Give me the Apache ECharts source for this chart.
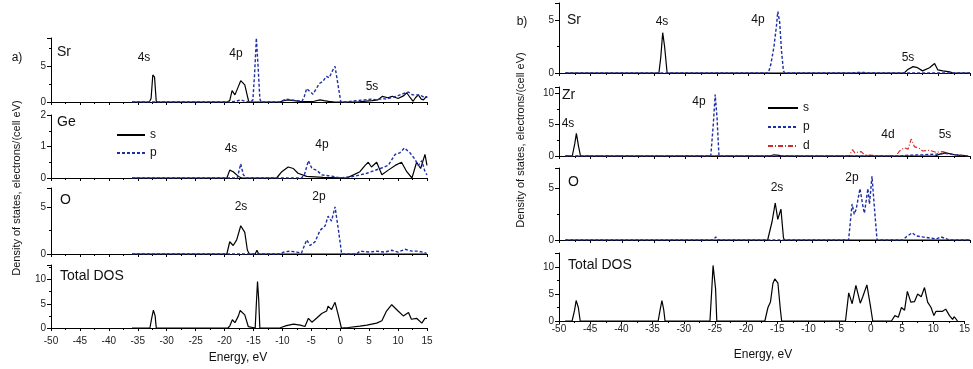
<!DOCTYPE html>
<html>
<head>
<meta charset="utf-8">
<script src="https://cdn.jsdelivr.net/npm/echarts@6/dist/echarts.min.js"></script>
<style>
  html, body { margin: 0; padding: 0; background: #fff; }
  #chart { width: 973px; height: 369px; }
</style>
</head>
<body>
<div id="chart"></div>
<script>
// ---- data: [energy (eV), DOS] ----
// panel a) SrGeO3
const srS_a = [[-36,0],[-33,0],[-32.7,0.5],[-32.4,3.8],[-32.1,3.5],[-31.8,0],[-19.6,0],[-19.1,0.2],[-18.7,1.6],[-18.2,1.0],[-17.6,2.2],[-17.2,3.0],[-16.5,2.4],[-16.1,1.0],[-15.8,0],[-10.4,0],[-9.8,0.2],[-9.0,0.3],[-8.0,0.2],[-7.0,0.1],[-6.0,0.05],[-4.5,0.1],[-3.5,0.3],[-2.8,0.2],[-2.0,0.1],[-1,0],[3,0],[4,0.1],[5.5,0.2],[6.5,0.3],[7.3,0.8],[8.2,0.6],[9.0,0.8],[10.0,0.5],[11.0,0.9],[11.5,1.3],[12.1,0.6],[12.6,0.1],[13.0,0.6],[13.5,1.0],[14.0,0.4],[14.4,0.3],[14.9,0.8],[15,0.6]];
const srP_a = [[-36,0],[-19,0],[-18,0.1],[-17.2,0.3],[-16.5,0.1],[-15.5,0],[-15.1,0.3],[-14.8,4],[-14.5,9.0],[-14.2,5],[-13.9,0.5],[-13.7,0],[-10.4,0],[-10,0.2],[-9.2,0.4],[-8.5,0.3],[-7.5,0.2],[-6.6,0.1],[-6.2,0.8],[-5.8,1.9],[-5.3,1.5],[-4.7,1.1],[-4.2,1.8],[-3.6,2.6],[-3.0,2.9],[-2.4,3.6],[-1.9,3.4],[-1.4,4.3],[-0.9,5.0],[-0.5,3.0],[0.1,0],[1.1,0],[2,0.1],[3,0.2],[4.2,0.3],[5.4,0.4],[6.3,0.3],[7.3,0.5],[8.0,0.4],[9.2,0.7],[10,0.9],[11,1.2],[11.8,1.4],[12.5,1.0],[13.3,1.0],[14.0,0.9],[14.6,0.6],[15,0.8]];
const geS = [[-36,0],[-19.6,0],[-19.1,0.25],[-18.5,0.2],[-17.6,0.05],[-17,0],[-14.4,0],[-14.2,0.05],[-14,0],[-11,0],[-10.1,0.2],[-9.0,0.35],[-8.1,0.3],[-7.3,0.15],[-5.8,0.05],[-3,0.02],[1.1,0],[2.3,0.1],[3.4,0.2],[4.3,0.4],[4.85,0.5],[5.4,0.35],[6.3,0.5],[7.2,0.1],[8.3,0.25],[9.5,0.4],[10.6,0.5],[11.5,0.2],[12.4,0.0],[13.2,0.5],[13.9,0.3],[14.65,0.75],[15,0.4]];
const geP = [[-36,0],[-17.8,0],[-17.2,0.45],[-16.75,0.1],[-16.2,0],[-6.7,0],[-6.2,0.1],[-5.5,0.55],[-4.9,0.3],[-4.1,0.25],[-3.2,0.1],[-1.2,0.05],[0,0],[2.3,0.05],[4.6,0.15],[6.9,0.3],[8.3,0.4],[9.5,0.75],[10.3,0.8],[11.1,0.95],[12.05,0.8],[12.9,0.6],[13.5,0.4],[14.1,0.55],[14.65,0.2],[15,0.1]];
const oS_a = [[-36,0],[-19.6,0],[-19.1,1.3],[-18.5,0.9],[-17.9,1.5],[-17.2,3.0],[-16.5,2.3],[-16.05,0.4],[-15.7,0],[-14.7,0],[-14.4,0.4],[-14.1,0],[15,0]];
const oP_a = [[-36,0],[-10.4,0],[-9.8,0.2],[-8.7,0.3],[-7.5,0.2],[-6.7,0.1],[-5.8,1.5],[-5.2,0.9],[-4.35,1.3],[-3.5,2.5],[-2.6,3.0],[-2.1,4.0],[-1.5,3.5],[-0.9,5.0],[-0.3,2.5],[0.25,0],[2.8,0],[3.4,0.3],[5.1,0.2],[6.3,0.3],[7.7,0.2],[8.9,0.4],[10.0,0.2],[11.2,0.5],[12.4,0.3],[13.5,0.3],[14.9,0.1]];
const totA = [[-36,0],[-32.9,0],[-32.6,2.0],[-32.3,3.7],[-32.0,2.5],[-31.8,0],[-19.4,0],[-19.06,0.5],[-18.65,1.7],[-18.2,1.1],[-17.6,2.5],[-17.3,3.6],[-16.5,2.7],[-15.9,0.3],[-15.7,0],[-14.7,0],[-14.5,5],[-14.3,9.6],[-14.1,6],[-13.9,0],[-10.4,0],[-10,0.2],[-9.3,0.5],[-8.1,0.8],[-6.9,0.6],[-6.1,0.3],[-5.5,2.0],[-4.9,1.2],[-4.1,2.0],[-3.2,3.0],[-2.35,3.5],[-2.1,4.5],[-1.5,3.8],[-0.9,5.3],[-0.3,2.5],[0.2,0],[1.4,0.1],[3.4,0.4],[4.6,0.6],[6.3,1.0],[7.2,1.5],[8.0,3.5],[8.9,4.8],[10.0,3.5],[10.9,2.5],[11.8,3.2],[12.3,1.8],[13.2,2.0],[14.1,1.0],[14.65,2.0],[15,2.0]];

// panel b) SrZrO3
const srS_b = [[-49,0],[-34.2,0],[-33.9,1.5],[-33.6,3.8],[-33.3,2.5],[-32.9,0],[4.6,0],[5.1,0.3],[6.0,0.6],[6.7,0.5],[7.5,0.2],[8.6,0.5],[9.4,0.9],[9.9,0.3],[10.7,0.2],[11.8,0.1],[12.3,0],[15,0]];
const srP_b = [[-49,0],[-16.9,0],[-16.5,0.8],[-16.0,2.5],[-15.6,4.5],[-15.4,5.8],[-15.1,4.8],[-14.8,2.0],[-14.5,0.2],[-14.3,0],[-3.6,0],[-3.0,0.05],[-1.8,0.05],[-1.2,0],[15,0]];
const zrS = [[-49,0],[-47.9,0],[-47.5,2.0],[-47.25,3.6],[-46.9,1.5],[-46.6,0],[-16.7,0],[-16.0,0.2],[-15.2,0.1],[-14.8,0],[9.5,0],[10.2,0.3],[11.2,0.5],[12.5,0.2],[13.5,0.1],[14.5,0]];
const zrP = [[-49,0],[-26.0,0],[-25.6,5],[-25.3,9.8],[-25.0,6],[-24.7,0],[4,0],[4.9,0.1],[7.5,0.2],[9.6,0.3],[11.2,0.4],[12.5,0.2],[14,0.05],[15,0]];
const zrD = [[-49,0],[-4.1,0],[-3.6,1.0],[-3.2,0.5],[-2.75,0.6],[-2.2,0.7],[-1.7,0.2],[-0.4,0.1],[0,0],[3.3,0],[3.85,0.8],[4.6,1.3],[5.2,1.1],[5.7,2.7],[6.2,1.5],[7.0,1.2],[7.5,0.8],[8.6,0.9],[9.6,0.6],[10.7,0.7],[11.5,0.4],[12.6,0.2],[13.9,0.1],[15,0]];
const oS_b = [[-49,0],[-17.0,0],[-16.3,1.8],[-15.8,3.6],[-15.4,2.0],[-14.9,3.0],[-14.5,0.2],[-14.3,0],[15,0]];
const oP_b = [[-49,0],[-25.6,0],[-25.2,0.3],[-24.8,0],[-4.2,0],[-3.65,3.5],[-3.3,2.5],[-3.0,3.0],[-2.4,5.0],[-2.0,3.5],[-1.7,2.6],[-1.15,5.0],[-0.9,3.5],[-0.5,6.2],[-0.1,3.0],[0.3,0],[4.4,0],[4.9,0.3],[5.85,0.7],[6.5,0.4],[7.5,0.3],[8.6,0.2],[9.65,0.1],[10.4,0.3],[11.8,0],[15,0]];
const totB = [[-49,0],[-47.9,0],[-47.5,2.0],[-47.25,3.8],[-46.9,2.5],[-46.6,0],[-34.1,0],[-33.8,2.0],[-33.5,3.8],[-33.2,2.0],[-33.0,0],[-25.8,0],[-25.5,6],[-25.3,10.3],[-24.9,6.0],[-24.7,0],[-17.0,0],[-16.5,2.5],[-16.1,3.5],[-15.7,7.0],[-15.4,7.8],[-14.9,7.0],[-14.5,2.0],[-14.3,0],[-4.07,0],[-3.55,5.2],[-3.0,3.2],[-2.4,6.6],[-1.7,3.3],[-1.3,4.5],[-0.64,6.7],[-0.1,3.0],[0.3,0],[3.3,0],[3.85,1.0],[4.4,0.7],[4.9,2.5],[5.4,2.0],[5.85,5.5],[6.4,3.5],[7.0,3.6],[7.5,5.0],[8.07,4.5],[8.6,6.2],[9.1,3.5],[9.65,2.5],[10.1,1.0],[10.45,1.8],[11.5,1.8],[12.0,2.2],[12.6,1.0],[13.1,0.3],[13.35,0.8],[13.9,0]];

// y axis ranges per subplot: [max, interval]
const yMax = [9, 2, 7, 13, 6.6, 11, 7, 12.6];
const yStep = [5, 1, 5, 5, 5, 5, 5, 5];

const FONT = 'Liberation Sans, Arial, sans-serif';
const BLUE = '#1d2fa3';
const RED = '#d42a2a';

var myChart = echarts.init(document.getElementById('chart'));

// grid layout (panel a left, panel b right)
const grids = [
    { left: 51, top: 38, width: 376, height: 64 },
    { left: 51, top: 115, width: 376, height: 63 },
    { left: 51, top: 188, width: 376, height: 66 },
    { left: 51, top: 265, width: 376, height: 63 },
    { left: 559, top: 3, width: 411, height: 70 },
    { left: 559, top: 87, width: 411, height: 69 },
    { left: 559, top: 168, width: 411, height: 72 },
    { left: 559, top: 253, width: 411, height: 68 }
];

const xAxes = grids.map((g, i) => ({
    type: 'value', gridIndex: i, min: -50, max: 15, interval: 5,
    axisLine: { onZero: false, lineStyle: { color: '#000', width: 1 } },
    axisTick: { length: 3, lineStyle: { color: '#000' } },
    minorTick: { show: true, splitNumber: 2, length: 2, lineStyle: { color: '#000' } },
    splitLine: { show: false },
    axisLabel: {
        show: i === 3 || i === 7,
        margin: i === 3 ? 8 : 3,
        fontSize: 10, color: '#222', fontFamily: FONT
    }
}));

const yAxes = grids.map((g, i) => ({
    type: 'value', gridIndex: i, min: 0, max: yMax[i], interval: yStep[i],
    axisLine: { show: true, onZero: false, lineStyle: { color: '#000', width: 1 } },
    axisTick: { show: true, length: 4, lineStyle: { color: '#000' } },
    minorTick: { show: true, splitNumber: 2, length: 2, lineStyle: { color: '#000' } },
    splitLine: { show: false },
    axisLabel: {
        fontSize: 10, color: '#222', fontFamily: FONT, margin: 5,
        formatter: (v) => (Math.abs(v / yStep[i] - Math.round(v / yStep[i])) < 1e-6 ? String(v) : '')
    }
}));

// 线条
function line(name, data, idx, color, dash, width) {
    return {
        name: name, type: 'line', data: data,
        xAxisIndex: idx, yAxisIndex: idx,
        symbol: 'none', silent: true, animation: false,
        lineStyle: { color: color, width: width || 1.2, type: dash || 'solid' },
        itemStyle: { color: color }
    };
}
const DASH = [3, 2];
const DASHDOT = [5, 2, 1, 2];

const series = [
    line('s', srS_a, 0, '#000'), line('p', srP_a, 0, BLUE, DASH, 1.4),
    line('s', geS, 1, '#000'), line('p', geP, 1, BLUE, DASH, 1.4),
    line('s', oS_a, 2, '#000'), line('p', oP_a, 2, BLUE, DASH, 1.4),
    line('total', totA, 3, '#000'),
    line('s', srS_b, 4, '#000'), line('p', srP_b, 4, BLUE, DASH, 1.4),
    line('d', zrD, 5, RED, DASHDOT, 1.2), line('s', zrS, 5, '#000'), line('p', zrP, 5, BLUE, DASH, 1.4),
    line('s', oS_b, 6, '#000'), line('p', oP_b, 6, BLUE, DASH, 1.4),
    line('total', totB, 7, '#000')
];

// 文字
function txt(text, x, y, size, align, rot) {
    return {
        type: 'text', x: x, y: y, rotation: rot || 0, silent: true,
        style: {
            text: text, fill: '#111', font: (size || 12) + 'px ' + FONT,
            textAlign: align || 'center', textVerticalAlign: 'middle'
        }
    };
}

const labels = [
    txt('a)', 17, 58, 12),
    txt('Sr', 57, 52, 14, 'left'),
    txt('Ge', 57, 122, 14, 'left'),
    txt('O', 60, 200, 14, 'left'),
    txt('Total DOS', 60, 276, 14, 'left'),
    txt('4s', 144, 58), txt('4p', 236, 54), txt('5s', 372, 87),
    txt('4s', 231, 149), txt('4p', 322, 145),
    txt('2s', 241, 207), txt('2p', 319, 197),
    txt('Energy, eV', 238, 358, 12),
    txt('Density of states, electrons/(cell eV)', 17, 188, 11, 'center', Math.PI / 2),

    txt('b)', 522, 22, 12),
    txt('Sr', 567, 20, 14, 'left'),
    txt('Zr', 562, 95, 14, 'left'),
    txt('O', 568, 182, 14, 'left'),
    txt('Total DOS', 568, 265, 14, 'left'),
    txt('4s', 662, 22), txt('4p', 758, 20), txt('5s', 908, 58),
    txt('4p', 699, 102), txt('4s', 568, 124), txt('4d', 888, 135), txt('5s', 945, 135),
    txt('2s', 777, 188), txt('2p', 852, 178),
    txt('Energy, eV', 763, 355, 12),
    txt('Density of states, electrons/(cell eV)', 521, 140, 11, 'center', Math.PI / 2)
];

myChart.setOption({
    animation: false,
    grid: grids,
    xAxis: xAxes,
    yAxis: yAxes,
    legend: [
        { //图例 a
            data: ['s', 'p'], orient: 'vertical', left: 111, top: 124,
            itemWidth: 28, itemHeight: 10, itemGap: 6, selectedMode: false,
            itemStyle: { opacity: 0 },
            textStyle: { fontSize: 12, color: '#111', fontFamily: FONT }
        },
        { //图例 b
            data: ['s', 'p', 'd'], orient: 'vertical', left: 762, top: 97,
            itemWidth: 30, itemHeight: 10, itemGap: 7, selectedMode: false,
            itemStyle: { opacity: 0 },
            textStyle: { fontSize: 12, color: '#111', fontFamily: FONT }
        }
    ],
    series: series,
    graphic: labels
});
</script>
</body>
</html>
